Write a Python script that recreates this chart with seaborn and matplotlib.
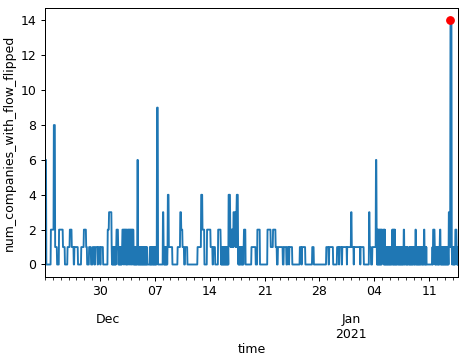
import pandas as pd
import matplotlib
matplotlib.use("Agg")
import matplotlib.pyplot as plt
import matplotlib.dates as mdates
from matplotlib.ticker import FixedLocator, FixedFormatter, NullFormatter
import seaborn as sns

# hourly counts, one string per day (hex digits, e = 14)
START = "2020-11-23 00:00"
nov_counts = [
    "666600000000000000222222",  # 23
    "222888811111100000022222",  # 24
    "222222211111100000000111",  # 25
    "111122222211111100111111",  # 26
    "111110000000000111111112",  # 27
    "222222111000000111111000",  # 28
    "001111100011111110011111",  # 29
    "100111111100000000000000",  # 30
]
dec_counts = [
    "222233333333101010101010",  # 1
    "101222221010101010101222",  # 2
    "202120212020120212021202",  # 3
    "202120210101010101066010",  # 4
    "101010101010101010101010",  # 5
    "100000000101010100101010",  # 6
    "101010199900000000000000",  # 7
    "033101010101010144411111",  # 8
    "111111000000000000000011",  # 9
    "111111333222211111000111",  # 10
    "111100000000000000000000",  # 11
    "000000000001111111111144",  # 12
    "442222220000000022222222",  # 13
    "222111111001111110000000",  # 14
    "002222222210101010101010",  # 15
    "101010101044444212121212",  # 16
    "133333313134444101010101",  # 17
    "101010101222220000000000",  # 18
    "000000001111111111111000",  # 19
    "002222222200000000000000",  # 20
    "000000000222222222211111",  # 21
    "112222222211110001111111",  # 22
    "111111110001111111100011",  # 23
    "111011111111100000000000",  # 24
    "000000000000111110011111",  # 25
    "111110000000000000000000",  # 26
    "001111100000000000000000",  # 27
    "000000000000000000000111",  # 28
    "111100111111111111000000",  # 29
    "000000111111011111110011",  # 30
    "111111111111011111111111",  # 31
]
jan_counts = [
    "133111111011111111111111",  # 1
    "111110111111111100000000",  # 2
    "000000003311110000111111",  # 3
    "111116620202020202020202",  # 4
    "211120202010101010101010",  # 5
    "101010120202020201010101",  # 6
    "101010101010101010220101",  # 7
    "101010100001010101010101",  # 8
    "101010220101010101010101",  # 9
    "101010102201010100000000",  # 10
    "000000000010222221010101",  # 11
    "101010101220101010101010",  # 12
    "10101010101033331eeee101",  # 13
    "101010102222101010",        # 14
]
week_ticks = ["2020-11-30", "2020-12-07", "2020-12-14", "2020-12-21",
              "2020-12-28", "2021-01-04", "2021-01-11"]
month_ticks = ["2020-12-01", "2021-01-01"]
month_labels = ["Dec", "Jan\n2021"]

values = [int(c, 16) for day in nov_counts + dec_counts + jan_counts for c in day]
df = pd.DataFrame({
    "time": pd.date_range(START, periods=len(values), freq="h"),
    "num_companies_with_flow_flipped": values,
})

fig = plt.figure(figsize=(5.2, 4.0), dpi=90)
ax = fig.add_axes([0.0962, 0.2314, 0.8831, 0.7456])

sns.lineplot(data=df, x="time", y="num_companies_with_flow_flipped",
             ax=ax, color="#1f77b4", linewidth=1.5)

# mark the maximum
peak = df.loc[df["num_companies_with_flow_flipped"].idxmax()]
ax.plot(peak["time"], peak["num_companies_with_flow_flipped"], "o", color="red")

ax.set_xlim(df["time"].iloc[0], df["time"].iloc[-1])

# pandas-like date axis: weekly day numbers, daily minor ticks, month names below
wk = [mdates.date2num(pd.Timestamp(t)) for t in week_ticks]
mo = [mdates.date2num(pd.Timestamp(t)) for t in month_ticks]
ax.xaxis.set_major_locator(FixedLocator(wk))
ax.xaxis.set_major_formatter(FixedFormatter([pd.Timestamp(t).strftime("%d") for t in week_ticks]))
ax.xaxis.set_minor_locator(mdates.DayLocator())
ax.xaxis.set_minor_formatter(NullFormatter())
ax.set_xlabel("")
ax.set_ylabel("num_companies_with_flow_flipped")

sec = ax.secondary_xaxis("bottom")
sec.set_xticks(mo)
sec.set_xticklabels(month_labels)
sec.tick_params(length=0, pad=29)
sec.spines["bottom"].set_visible(False)
sec.set_xlabel("time", labelpad=2)

fig.savefig("out.png", dpi=90)
